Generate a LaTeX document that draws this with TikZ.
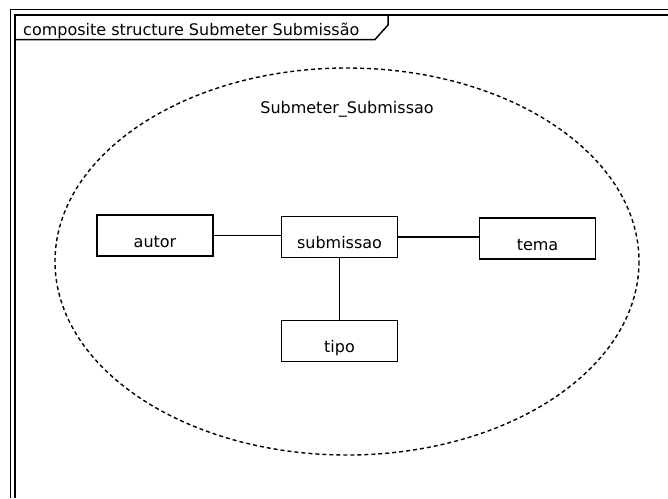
\documentclass[tikz,border=0pt]{standalone}
\usepackage{fontspec}
\setmainfont{DejaVu Sans}
\usetikzlibrary{calc}

\tikzset{
	part/.style={draw, line width=1.5pt, minimum width=116pt, minimum height=41pt,
		inner sep=0pt, text height=23pt, text depth=0pt},
	link/.style={line width=1.5pt},
	frameline/.style={line width=1.5pt},
}

\begin{document}
\begin{tikzpicture}[x=1pt,y=-1pt,font=\fontsize{16}{19}\selectfont]
\useasboundingbox (0,0) rectangle (668,498);

\draw[frameline] (10.5,498) -- (10.5,9.5) -- (668,9.5);
\draw[frameline] (15,498) -- (15,15) -- (668,15);
\draw[frameline] (15,39.5) -- (375,39.5) -- (388,25) -- (388,15);
\node[anchor=base west,inner sep=0pt] (title) at (23,35) {composite structure Submeter Submissão};

\draw[line width=1.4pt,dash pattern=on 4pt off 3pt] (347,261.5) ellipse [x radius=292, y radius=193.5];
\node[anchor=base,inner sep=0pt] (name) at (347,113) {Submeter\_Submissao};

\node[part] (autor) at (155,235.5) {autor};
\node[part] (submissao) at (339.5,237) {submissao};
\node[part] (tema) at (537.5,238.5) {tema};
\node[part] (tipo) at (339.5,341) {tipo};

\draw[link] (autor.east) -- (autor.east -| submissao.west);
\draw[link] (submissao.east) -- (submissao.east -| tema.west);
\draw[link] (submissao.south) -- (tipo.north);
\end{tikzpicture}
\end{document}
